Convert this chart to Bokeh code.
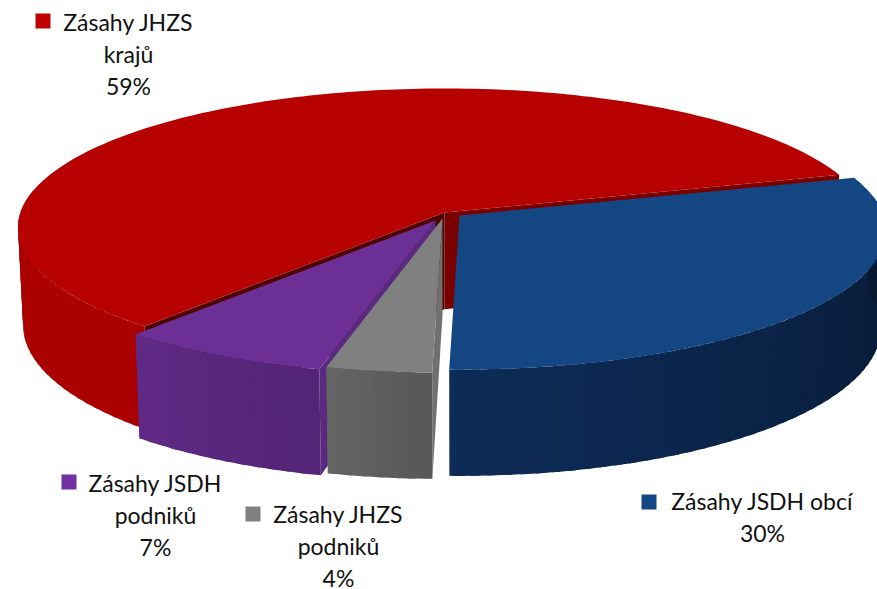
import numpy as np
from bokeh.plotting import figure
from bokeh.models import Range1d
from bokeh.core.properties import value
from bokeh.embed import file_html
from bokeh.resources import INLINE

# --- data ---
categories = ["Zásahy JSDH obcí", "Zásahy JHZS podniků", "Zásahy JSDH podniků", "Zásahy JHZS krajů"]
shares = [29.9, 3.6, 7.3, 59.2]
label_lines = [["Zásahy JSDH obcí", "30%"],
               ["Zásahy JHZS", "podniků", "4%"],
               ["Zásahy JSDH", "podniků", "7%"],
               ["Zásahy JHZS", "krajů", "59%"]]

# --- style ---
top_colors = ["#134682", "#808080", "#6b2f96", "#b70000"]
key_colors = ["#134682", "#808080", "#7030a0", "#c00000"]
side_right = [(6, 22, 44), (88, 88, 88), (84, 36, 118), (170, 0, 0)]
side_left = [(13, 44, 88), (102, 102, 102), (96, 42, 134), (170, 0, 0)]
start_angle = 73.6
# explosion offset of each slice's apex, px
apex = [(459, 215), (442, 218), (435, 220), (444, 212)]
# walls: (colour, which edge) per slice
walls = {0: [], 1: [("#707070", 0)], 2: [("#5a2a80", 0)],
         3: [("#4f0000", 0), ("#7a0000", 1)]}
label_centre = [(762, 500), (338, 513), (155, 482), (128, 21)]
key_pos = [(648.5, 501.5), (252.5, 513.5), (68.5, 481.5), (42.5, 20.5)]
LINE = 32
R, A, D, PERSP, Q = 424.0, 137.4, 98.0, 0.108, 0.012

W, H = 877, 589
p = figure(width=W, height=H, output_backend="svg", toolbar_location=None,
           x_range=Range1d(0, W), y_range=Range1d(H, 0),
           min_border=0, outline_line_color=None, background_fill_color="white")
p.axis.visible = False
p.grid.visible = False


def proj(c, ang, z, rad=1.0):
    a = np.radians(ang)
    u, v = np.sin(a) * rad, -np.cos(a) * rad
    w = 1.0 / (1.0 - PERSP * v + Q * z)
    return c[0] + R * u * w, c[1] + (A * v + D * z) * w


def hex_of(t):
    return "#%02x%02x%02x" % tuple(int(round(x)) for x in t)


edges = start_angle + np.cumsum([0] + [s * 3.6 for s in shares])
# paint from the back slice to the front ones
for i in [3, 0, 2, 1]:
    a0, a1 = edges[i], edges[i + 1]
    c = apex[i]
    # flat cut walls
    for col, e in walls[i]:
        ang = a0 if e == 0 else a1
        x0, y0 = proj(c, ang, 0)
        x1, y1 = proj(c, ang, 1)
        cx1, cy1 = proj(c, ang, 1, rad=0.0)
        p.patch([c[0], x0, x1, cx1], [c[1], y0, y1, cy1], fill_color=col, line_color=None)
    # curved outer wall, painted in overlapping strips
    angs = np.append(np.arange(a0, a1, 2.0), a1)
    xs, ys, cols = [], [], []
    for j in range(len(angs) - 1):
        b0, b1 = angs[j], min(angs[j + 1] + 1.0, a1)
        m = (angs[j] + angs[j + 1]) / 2
        if np.cos(np.radians(m)) > 0.15:
            continue
        t = (a1 - m) / (a1 - a0)
        col = [side_right[i][k] * t + side_left[i][k] * (1 - t) for k in range(3)]
        arc = np.linspace(b0, b1, 4)
        x0, y0 = proj(c, arc, 0)
        x1, y1 = proj(c, arc[::-1], 1)
        xs.append(np.r_[x0, x1])
        ys.append(np.r_[y0, y1])
        cols.append(hex_of(col))
    p.patches(xs[::-1], ys[::-1], fill_color=cols[::-1], line_color=None)
    # top face
    arc = np.linspace(a0, a1, 180)
    tx, ty = proj(c, arc, 0)
    p.patch(np.r_[c[0], tx], np.r_[c[1], ty], fill_color=top_colors[i], line_color=None)

# labels
for i, lines in enumerate(label_lines):
    cx, by = label_centre[i]
    for n, s in enumerate(lines):
        p.text([cx], [by + n * LINE], text=[s], text_font=value("Lato"), text_font_size="23px",
               text_color="#111111", text_align="center", text_baseline="alphabetic")
    p.rect([key_pos[i][0]], [key_pos[i][1]], width=15, height=15, width_units="screen",
           height_units="screen", fill_color=key_colors[i], line_color=None)

open("out.html", "w").write(file_html(p, INLINE))
